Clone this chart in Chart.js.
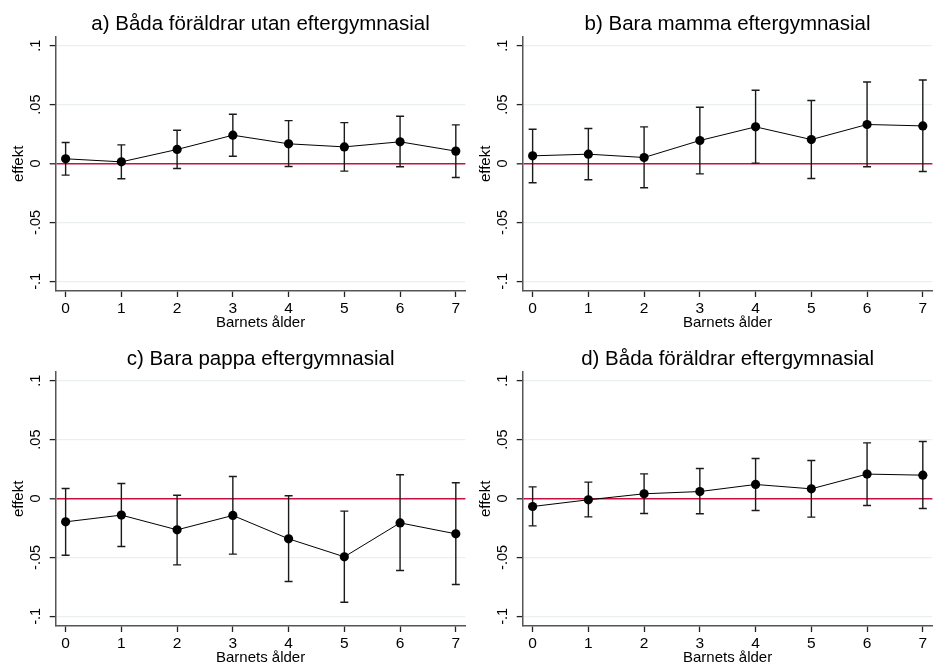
<!DOCTYPE html>
<html>
<head>
<meta charset="utf-8">
<script src="https://cdn.jsdelivr.net/npm/chart.js@4.4.0/dist/chart.umd.min.js"></script>
<style>
  html, body { margin: 0; padding: 0; background: #fff; overflow: hidden; width: 934px; height: 664px; }
  canvas { position: absolute; }
</style>
</head>
<body>
<canvas id="pa" width="470" height="329" style="left:0;top:0"></canvas>
<canvas id="pb" width="470" height="329" style="left:467px;top:0"></canvas>
<canvas id="pc" width="470" height="329" style="left:0;top:335px"></canvas>
<canvas id="pd" width="470" height="329" style="left:467px;top:335px"></canvas>
<script>
var ages = [0, 1, 2, 3, 4, 5, 6, 7];
var yTicks = [-0.1, -0.05, 0, 0.05, 0.1];
var yTickLabels = ['-.1', '-.05', '0', '.05', '.1'];

var titles = ['a) Båda föräldrar utan eftergymnasial', 'b) Bara mamma eftergymnasial',
              'c) Bara pappa eftergymnasial', 'd) Båda föräldrar eftergymnasial'];

// a) neither parent post-secondary
var estA  = [0.0040, 0.0014, 0.0119, 0.0240, 0.0167, 0.0141, 0.0184, 0.0105];
var lowA  = [-0.0099, -0.0130, -0.0042, 0.0062, -0.0025, -0.0065, -0.0028, -0.0119];
var highA = [0.0178, 0.0158, 0.0282, 0.0418, 0.0364, 0.0347, 0.0401, 0.0328];
// b) mother only
var estB  = [0.0065, 0.0079, 0.0051, 0.0195, 0.0311, 0.0203, 0.0331, 0.0319];
var lowB  = [-0.0164, -0.0138, -0.0206, -0.0088, 0.0003, -0.0127, -0.0028, -0.0068];
var highB = [0.0291, 0.0297, 0.0311, 0.0477, 0.0621, 0.0534, 0.0692, 0.0709];
// c) father only
var estC  = [-0.0198, -0.0141, -0.0266, -0.0144, -0.0342, -0.0495, -0.0207, -0.0300];
var lowC  = [-0.0481, -0.0407, -0.0563, -0.0472, -0.0704, -0.0880, -0.0611, -0.0730];
var highC = [0.0085, 0.0127, 0.0028, 0.0187, 0.0023, -0.0107, 0.0201, 0.0133];
// d) both parents
var estD  = [-0.0068, -0.0011, 0.0040, 0.0059, 0.0119, 0.0082, 0.0207, 0.0198];
var lowD  = [-0.0232, -0.0156, -0.0127, -0.0130, -0.0102, -0.0158, -0.0059, -0.0085];
var highD = [0.0099, 0.0139, 0.0209, 0.0255, 0.0339, 0.0323, 0.0472, 0.0484];

Chart.defaults.font.family = '"Liberation Sans", Arial, sans-serif';
Chart.defaults.color = '#000';

// whiskers + text that Chart.js can't rotate the way Stata does
var stataPlugin = {
  id: 'stata',
  beforeDatasetsDraw: function(chart) {
    var c = chart.ctx, xs = chart.scales.x, ys = chart.scales.y;
    var lo = chart.options.plugins.stata.low, hi = chart.options.plugins.stata.high;
    c.save();
    c.strokeStyle = '#1a1a1a';
    c.lineWidth = 1.4;
    for (var i = 0; i < ages.length; i++) {
      var x = xs.getPixelForValue(ages[i]);
      var y1 = ys.getPixelForValue(lo[i]), y2 = ys.getPixelForValue(hi[i]);
      c.beginPath();
      c.moveTo(x, y1); c.lineTo(x, y2);
      c.moveTo(x - 4, y1); c.lineTo(x + 4, y1);
      c.moveTo(x - 4, y2); c.lineTo(x + 4, y2);
      c.stroke();
    }
    c.restore();
  },
  afterDraw: function(chart) {
    var c = chart.ctx, ys = chart.scales.y, a = chart.chartArea;
    var cx = (a.left + a.right) / 2, cy = (a.top + a.bottom) / 2;
    c.save();
    c.fillStyle = '#000';
    c.textAlign = 'center';
    c.textBaseline = 'alphabetic';
    c.font = '20.5px "Liberation Sans", Arial, sans-serif';
    c.fillText(chart.options.plugins.stata.title, cx, 30);
    c.font = '15px "Liberation Sans", Arial, sans-serif';
    c.fillText('Barnets ålder', cx, 326.5);
    // rotated y tick labels
    c.font = '14.5px "Liberation Sans", Arial, sans-serif';
    for (var i = 0; i < yTicks.length; i++) {
      c.save();
      c.translate(39.5, ys.getPixelForValue(yTicks[i]));
      c.rotate(-Math.PI / 2);
      c.fillText(yTickLabels[i], 0, 0);
      c.restore();
    }
    c.save();
    c.translate(23, cy);
    c.rotate(-Math.PI / 2);
    c.font = '15px "Liberation Sans", Arial, sans-serif';
    c.fillText('effekt', 0, 0);
    c.restore();
    c.restore();
  }
};

function makePanel(id, title, est, low, high) {
  var pts = ages.map(function(a, i) { return { x: a, y: est[i] }; });
  return new Chart(document.getElementById(id), {
    type: 'line',
    data: {
      datasets: [{
        data: pts,
        borderColor: '#000',
        borderWidth: 1,
        backgroundColor: '#000',
        pointRadius: 4.6,
        pointBorderWidth: 0,
        tension: 0
      }]
    },
    options: {
      responsive: false,
      animation: false,
      layout: { padding: { top: 36.7, left: 0, right: 0, bottom: 0 } },
      plugins: {
        legend: { display: false },
        tooltip: { enabled: false },
        stata: { title: title, low: low, high: high }
      },
      scales: {
        x: {
          type: 'linear',
          min: -0.178,
          max: 7.172,
          afterBuildTicks: function(s) { s.ticks = ages.map(function(v) { return { value: v }; }); },
          afterFit: function(s) { s.height = 38; },
          ticks: { font: { size: 15.5 }, padding: 2, maxRotation: 0, color: '#000' },
          grid: { drawOnChartArea: false, drawTicks: true, tickLength: 6, tickColor: '#222', tickWidth: 1.3 },
          border: { color: '#555', width: 1.5 }
        },
        y: {
          min: -0.1082,
          max: 0.1076,
          afterBuildTicks: function(s) { s.ticks = yTicks.map(function(v) { return { value: v }; }); },
          afterFit: function(s) { s.width = 55.7; },
          ticks: { display: false },
          grid: {
            drawTicks: true,
            tickLength: 6,
            tickColor: '#222',
            tickWidth: 1.3,
            color: function(ctx) { return ctx.tick && ctx.tick.value === 0 ? '#c8103e' : '#eaf0f0'; },
            lineWidth: function(ctx) { return ctx.tick && ctx.tick.value === 0 ? 1.6 : 1.2; }
          },
          border: { color: '#555', width: 1.5 }
        }
      }
    },
    plugins: [stataPlugin]
  });
}

makePanel('pa', titles[0], estA, lowA, highA);
makePanel('pb', titles[1], estB, lowB, highB);
makePanel('pc', titles[2], estC, lowC, highC);
makePanel('pd', titles[3], estD, lowD, highD);
</script>
</body>
</html>
